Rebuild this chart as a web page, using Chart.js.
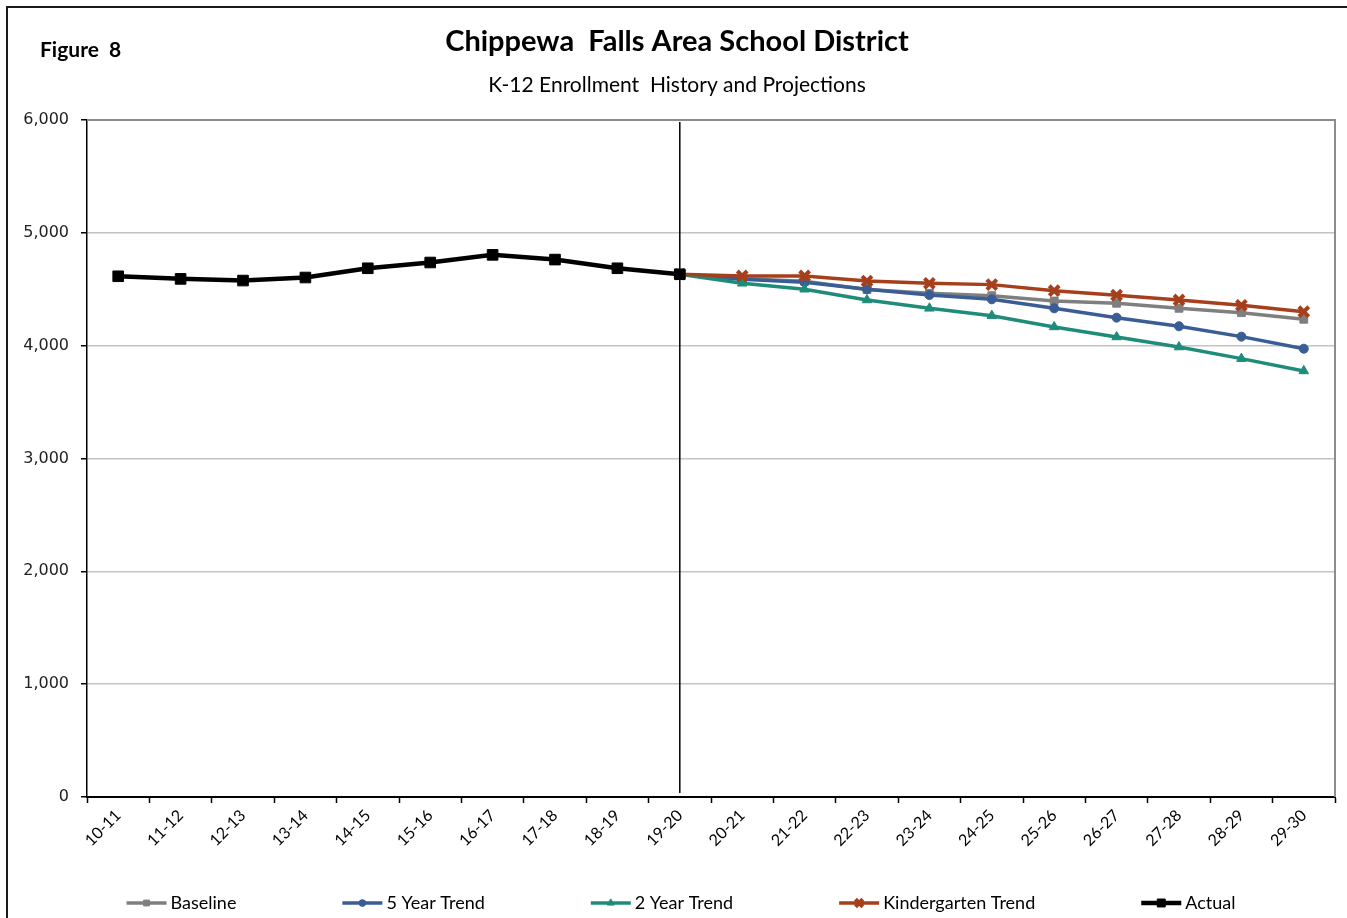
<!DOCTYPE html>
<html>
<head>
<meta charset="utf-8">
<script src="https://cdn.jsdelivr.net/npm/chart.js@4"></script>
<style>
  html, body { margin: 0; padding: 0; background: #fff; }
  #wrap { position: relative; width: 1347px; height: 918px; }
</style>
</head>
<body>
<div id="wrap"><canvas id="enroll" width="1347" height="918"></canvas></div>
<script>
// school years on the x axis
const years = ["10-11", "11-12", "12-13", "13-14", "14-15", "15-16", "16-17", "17-18", "18-19", "19-20",
               "20-21", "21-22", "22-23", "23-24", "24-25", "25-26", "26-27", "27-28", "28-29", "29-30"];

// actual K-12 counts (history only)
const actual = [4615, 4592, 4577, 4604, 4686, 4737, 4805, 4763, 4686, 4633,
                null, null, null, null, null, null, null, null, null, null];

// projections start from the last actual year
const baseline = [null, null, null, null, null, null, null, null, null, 4633,
                  4592, 4570, 4497, 4464, 4443, 4396, 4376, 4331, 4292, 4234];
const fiveYear = [null, null, null, null, null, null, null, null, null, 4633,
                  4588, 4562, 4500, 4449, 4411, 4331, 4248, 4172, 4080, 3973];
const twoYear = [null, null, null, null, null, null, null, null, null, 4633,
                 4553, 4500, 4405, 4331, 4266, 4166, 4077, 3988, 3885, 3776];
const kinderTrend = [null, null, null, null, null, null, null, null, null, 4633,
                     4618, 4618, 4573, 4553, 4541, 4487, 4447, 4405, 4358, 4301];

const yTicks = [0, 1000, 2000, 3000, 4000, 5000, 6000];
const lastActual = "19-20";

const FONT = "Lato, 'Open Sans', sans-serif";

// frame, titles, plot border and the history/projection divider
const decor = {
    id: "decor",
    beforeDraw(chart) {
        const ctx = chart.ctx;
        ctx.save();
        ctx.fillStyle = "#fff";
        ctx.fillRect(0, 0, chart.width, chart.height);
        ctx.strokeStyle = "#1a1a1a";
        ctx.lineWidth = 2;
        ctx.beginPath();
        ctx.moveTo(7, chart.height + 2);
        ctx.lineTo(7, 7);
        ctx.lineTo(chart.width + 2, 7);
        ctx.stroke();

        ctx.fillStyle = "#000";
        ctx.textBaseline = "middle";
        ctx.textAlign = "left";
        ctx.font = "bold 21px " + FONT;
        ctx.fillText("Figure  8", 40, 50);
        ctx.textAlign = "center";
        ctx.font = "bold 29px " + FONT;
        ctx.fillText("Chippewa  Falls Area School District", 677, 42);
        ctx.font = "21px " + FONT;
        ctx.fillText("K-12 Enrollment  History and Projections", 677, 85);
        ctx.restore();
    },
    beforeDatasetsDraw(chart) {
        const ctx = chart.ctx;
        const a = chart.chartArea;
        ctx.save();
        ctx.strokeStyle = "#8c8c8c";
        ctx.lineWidth = 2;
        ctx.beginPath();
        ctx.moveTo(a.left, a.top);
        ctx.lineTo(a.right, a.top);
        ctx.lineTo(a.right, a.bottom);
        ctx.stroke();

        const x = chart.scales.x.getPixelForValue(years.indexOf(lastActual));
        ctx.strokeStyle = "#000";
        ctx.lineWidth = 1.5;
        ctx.beginPath();
        ctx.moveTo(x, a.top + 2);
        ctx.lineTo(x, a.bottom - 4);
        ctx.stroke();
        ctx.restore();
    }
};

// spread-out legend along the bottom, one sample line + marker per series
const bottomLegend = {
    id: "bottomLegend",
    afterDraw(chart) {
        const ctx = chart.ctx;
        const sets = chart.data.datasets;
        const sample = 40, gap = 4, spacing = 106, y = 903;
        ctx.save();
        ctx.font = "18px " + FONT;
        const widths = sets.map(d => sample + gap + ctx.measureText(d.label).width);
        const total = widths.reduce((s, w) => s + w, 0) + spacing * (sets.length - 1);
        let x = 681 - total / 2;
        sets.forEach((d, i) => {
            ctx.strokeStyle = d.borderColor;
            ctx.fillStyle = d.borderColor;
            ctx.lineWidth = d.borderWidth;
            ctx.beginPath();
            ctx.moveTo(x, y);
            ctx.lineTo(x + sample, y);
            ctx.stroke();
            ctx.lineWidth = d.pointBorderWidth || 1;
            Chart.helpers.drawPoint(ctx, {
                pointStyle: d.pointStyle,
                radius: d.pointRadius * 0.75,
                borderWidth: d.pointBorderWidth || 1,
                rotation: 0
            }, x + sample / 2, y);
            ctx.fillStyle = "#000";
            ctx.textAlign = "left";
            ctx.textBaseline = "middle";
            ctx.fillText(d.label, x + sample + gap, y);
            x += widths[i] + spacing;
        });
        ctx.restore();
    }
};

function series(label, data, color, style, radius, width, order) {
    return {
        label: label,
        data: data,
        borderColor: color,
        backgroundColor: color,
        pointBackgroundColor: color,
        pointBorderColor: color,
        borderWidth: width,
        pointStyle: style,
        pointRadius: radius,
        pointBorderWidth: style === "crossRot" ? 4 : 1,
        tension: 0,
        spanGaps: false,
        order: order
    };
}

new Chart(document.getElementById("enroll"), {
    type: "line",
    data: {
        labels: years,
        datasets: [
            series("Baseline", baseline, "#7f7f7f", "rect", 5.5, 3.5, 4),
            series("5 Year Trend", fiveYear, "#3a5d96", "circle", 4.5, 3.5, 3),
            series("2 Year Trend", twoYear, "#1f8c7a", "triangle", 5.5, 3.5, 2),
            series("Kindergarten Trend", kinderTrend, "#a63f1c", "crossRot", 7, 3.5, 1),
            series("Actual", actual, "#000000", "rect", 7.5, 4.5, 0)
        ]
    },
    options: {
        responsive: false,
        animation: false,
        devicePixelRatio: 1,
        layout: { padding: { top: 120, right: 12, bottom: 51, left: 0 } },
        plugins: {
            legend: { display: false },
            title: { display: false },
            tooltip: { enabled: false }
        },
        scales: {
            x: {
                offset: true,
                grid: {
                    offset: true,
                    drawOnChartArea: false,
                    drawTicks: true,
                    tickLength: 6,
                    tickColor: "#000",
                    tickWidth: 1.5
                },
                border: { color: "#000", width: 2 },
                ticks: {
                    autoSkip: false,
                    minRotation: 45,
                    maxRotation: 45,
                    padding: 3,
                    color: "#000",
                    font: { family: FONT, size: 16 }
                },
                afterFit: s => { s.height = 70; }
            },
            y: {
                min: 0,
                max: 6000,
                afterBuildTicks: s => { s.ticks = yTicks.map(v => ({ value: v })); },
                grid: {
                    color: "#c4c4c4",
                    lineWidth: 1.5,
                    tickLength: 6,
                    tickColor: "#000",
                    tickWidth: 1.5
                },
                border: { color: "#000", width: 1.5 },
                ticks: {
                    padding: 12,
                    color: "#222",
                    font: { family: "'DejaVu Sans', Verdana, sans-serif", size: 16 },
                    callback: v => v.toLocaleString("en-US")
                },
                afterFit: s => { s.width = 87; }
            }
        }
    },
    plugins: [decor, bottomLegend]
});
</script>
</body>
</html>
